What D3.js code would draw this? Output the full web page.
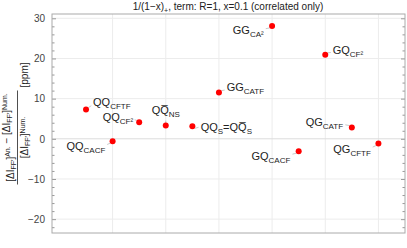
<!DOCTYPE html>
<html>
<head>
<meta charset="utf-8">
<script src="https://cdn.jsdelivr.net/npm/d3@7"></script>
<style>
body{margin:0;background:#fff;}
svg text{font-family:"Liberation Sans",Arial,sans-serif;}
</style>
</head>
<body>
<div id="chart"></div>
<script>
// data
var labels = ["QQ_{CFTF}","QQ_{CACF}","QQ_{CF\u00b2}","QQ\u0305_{NS}","QQ_{S}=QQ\u0305_{S}","GG_{CATF}","GG_{CA\u00b2}","GQ_{CACF}","GQ_{CF\u00b2}","QG_{CATF}","QG_{CFTF}"];
var xPos = [1,2,3,4,5,6,8,9,10,11,12];
var values = [7.3,-0.6,4.1,3.3,3.1,11.5,28.1,-3.1,20.9,2.8,-1.2];
var yTicks = [-20,-10,0,10,20,30];
var xGrid = [2,4,6,8,10,12];
var title = "1/(1\u2212x)_{+}, term: R=1, x=0.1 (correlated only)";

// where each label sits next to its point: dx, dy (baseline), anchor
var place = [[7,-3.8,"start"],[-7.3,9,"end"],[-6,-1.6,"end"],[0,-11.7,"middle"],[8.3,4.7,"start"],
             [7.7,-1.6,"start"],[-8.4,8,"end"],[-8.3,8.3,"end"],[7.4,-1.3,"start"],[-8.7,-2,"end"],[-7.6,9.3,"end"]];

var W=407,H=248,
    margin={top:14,right:2,bottom:15,left:52},
    width=W-margin.left-margin.right,
    height=H-margin.top-margin.bottom;

var svg=d3.select("#chart").append("svg").attr("width",W).attr("height",H);

var x=d3.scaleLinear().domain([-0.28,13.0]).range([0,width]);
var y=d3.scaleLinear().domain([-23.45,31.07]).range([height,0]);

var g=svg.append("g").attr("transform","translate("+margin.left+","+margin.top+")");

// text with _{sub} pieces
function richText(sel,str,size,subSize,shift){
    var parts=str.split(/_\{([^}]*)\}/);
    var cur=0;
    parts.forEach(function(p,i){
        if(p==="") return;
        var sub=i%2==1;
        var want=sub?shift:0;
        sel.append("tspan").attr("dy",want-cur).style("font-size",(sub?subSize:size)+"px").text(p);
        cur=want;
    });
}

// grid
g.selectAll(".gx").data(xGrid).enter().append("line")
    .attr("x1",function(d){return x(d);}).attr("x2",function(d){return x(d);})
    .attr("y1",0).attr("y2",height).attr("stroke","#ececec").attr("stroke-width",1);
g.selectAll(".gy").data(yTicks).enter().append("line")
    .attr("x1",0).attr("x2",width)
    .attr("y1",function(d){return y(d);}).attr("y2",function(d){return y(d);})
    .attr("stroke",function(d){return d==0?"#dcdcdc":"#ececec";}).attr("stroke-width",1);

// axes: left with labels, right mirrored, minor ticks every 2
var minor=d3.range(-22,31,2).filter(function(d){return d%10!=0;});
g.append("g").attr("class","bs_axisY")
    .call(d3.axisLeft(y).tickValues(yTicks).tickSize(-4).tickPadding(7)
        .tickFormat(function(d){return d<0?"\u2212"+Math.abs(d):d;}));
g.append("g").call(d3.axisLeft(y).tickValues(minor).tickSize(-2.5).tickFormat(""));
g.append("g").attr("transform","translate("+width+",0)")
    .call(d3.axisRight(y).tickValues(yTicks).tickSize(-4).tickFormat(""));
g.append("g").attr("transform","translate("+width+",0)")
    .call(d3.axisRight(y).tickValues(minor).tickSize(-2.5).tickFormat(""));
g.selectAll(".domain").remove();
g.selectAll(".tick line").attr("stroke","#999");
g.selectAll(".tick text").attr("fill","#444").style("font-size","10px").style("font-family","Liberation Sans,Arial,sans-serif");

g.append("rect").attr("width",width).attr("height",height)
    .attr("fill","none").attr("stroke","#aaa").attr("stroke-width",1);

// leader lines, points, labels
xPos.forEach(function(xv,i){
    var px=x(xv),py=y(values[i]),p=place[i];
    var lx=p[0]*0.75,ly=(p[1]-3)*0.55;
    if(p[2]=="middle"){lx=0;ly=-5;}
    g.append("line").attr("x1",px+Math.sign(lx)*2.5).attr("y1",py+Math.sign(ly)*2)
        .attr("x2",px+lx).attr("y2",py+ly)
        .attr("stroke","#bbb").attr("stroke-width",0.8);
    var t=g.append("text").attr("x",px+p[0]).attr("y",py+p[1])
        .attr("text-anchor",p[2]).attr("fill","#222");
    richText(t,labels[i],11,8,3);
});
g.selectAll(".pt").data(values).enter().append("circle")
    .attr("cx",function(d,i){return x(xPos[i]);})
    .attr("cy",function(d){return y(d);})
    .attr("r",3).attr("fill","#ff0000");

// title
var tt=svg.append("text").attr("x",228).attr("y",10).attr("text-anchor","middle").attr("fill","#222");
richText(tt,title,10,7,2.5);

// y label: fraction + [ppm], rotated
var yl=svg.append("g").attr("transform","translate(17.5,137.5) rotate(-90)");
var num=yl.append("text").attr("x",0).attr("y",-4).attr("text-anchor","middle").attr("fill","#222");
function frac(t,tail){
    t.append("tspan").style("font-size","10px").text("[\u0394I");
    t.append("tspan").attr("dy",2).style("font-size","7px").text("FF\u2032");
    t.append("tspan").attr("dy",-2).style("font-size","10px").text("]");
    t.append("tspan").attr("dy",-3.5).style("font-size","7px").text(tail);
    t.append("tspan").attr("dy",3.5).style("font-size","10px").text("");
}
frac(num,"An.");
num.append("tspan").style("font-size","10px").text(" \u2212 ");
frac(num,"Num.");
yl.append("line").attr("x1",-47).attr("x2",47).attr("y1",0).attr("y2",0).attr("stroke","#222").attr("stroke-width",0.8);
var den=yl.append("text").attr("x",0).attr("y",10.5).attr("text-anchor","middle").attr("fill","#222");
frac(den,"Num.");
yl.append("text").attr("x",50).attr("y",10.5).attr("fill","#222").style("font-size","10px").text("[ppm]");
</script>
</body>
</html>
